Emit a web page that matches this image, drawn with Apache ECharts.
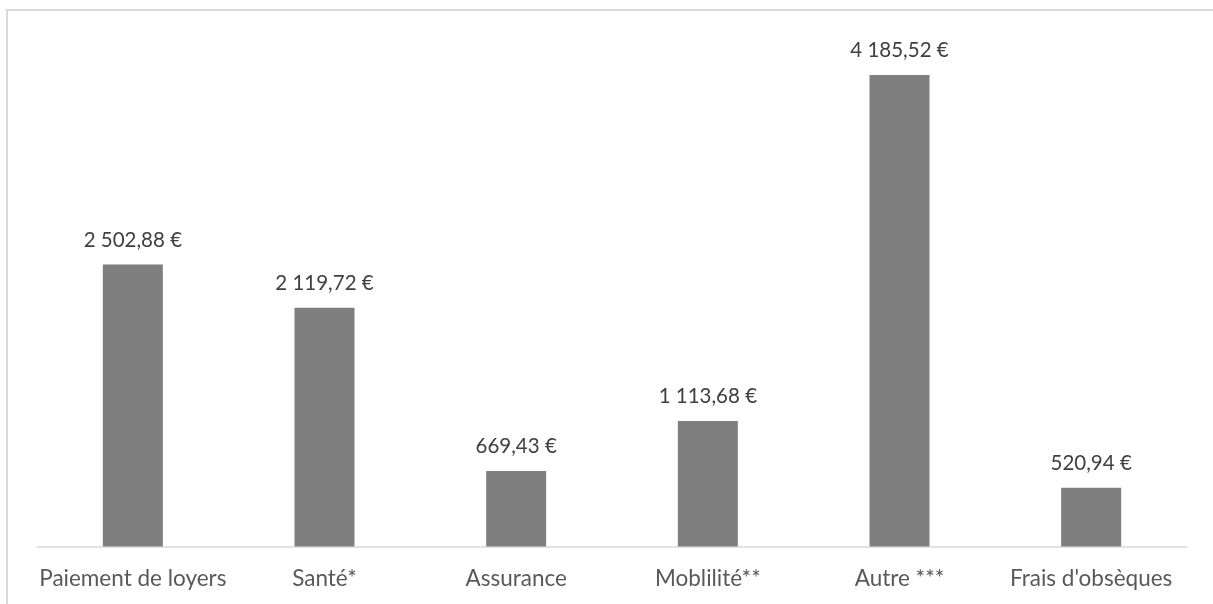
<!DOCTYPE html>
<html>
<head>
<meta charset="utf-8">
<script src="https://cdn.jsdelivr.net/npm/echarts@6/dist/echarts.min.js"></script>
<style>
  html, body { margin: 0; padding: 0; background: #fff; }
  #main { width: 1213px; height: 604px; }
</style>
</head>
<body>
<div id="main"></div>
<script>
  // categories and values
  var categories = ['Paiement de loyers', 'Santé*', 'Assurance', 'Moblilité**', 'Autre ***', "Frais d'obsèques"];
  var amounts = [2502.88, 2119.72, 669.43, 1113.68, 4185.52, 520.94];

  // 2 502,88 €
  function euro(v) {
    var parts = v.toFixed(2).split('.');
    var ent = parts[0].replace(/\B(?=(\d{3})+(?!\d))/g, ' ');
    return ent + ',' + parts[1] + ' €';
  }

  var myChart = echarts.init(document.getElementById('main'));
  var fontName = 'Lato';

  var option = {
    animation: false,
    graphic: [{
      type: 'rect',
      shape: { x: 7, y: 10, width: 1220, height: 620 },
      style: { fill: 'none', stroke: '#d9d9d9', lineWidth: 2 },
      silent: true
    }],
    grid: { left: 37, right: 26, top: 39.5, bottom: 57.5 },
    xAxis: {
      type: 'category',
      data: categories,
      axisLine: { lineStyle: { color: '#d9d9d9', width: 1.5 } },
      axisTick: { show: false },
      axisLabel: {
        color: '#595959',
        fontFamily: fontName,
        fontSize: 22.5,
        margin: 21,
        interval: 0
      }
    },
    yAxis: {
      type: 'value',
      min: 0,
      max: 4500,
      show: false,
      splitLine: { show: false }
    },
    series: [{
      type: 'bar',
      data: amounts,
      barWidth: 60,
      itemStyle: { color: '#7f7f7f' },
      label: {
        show: true,
        position: 'top',
        distance: 14,
        color: '#404040',
        fontFamily: fontName,
        fontSize: 20.5,
        formatter: function (p) { return euro(p.value); }
      }
    }]
  };

  myChart.setOption(option);
</script>
</body>
</html>
